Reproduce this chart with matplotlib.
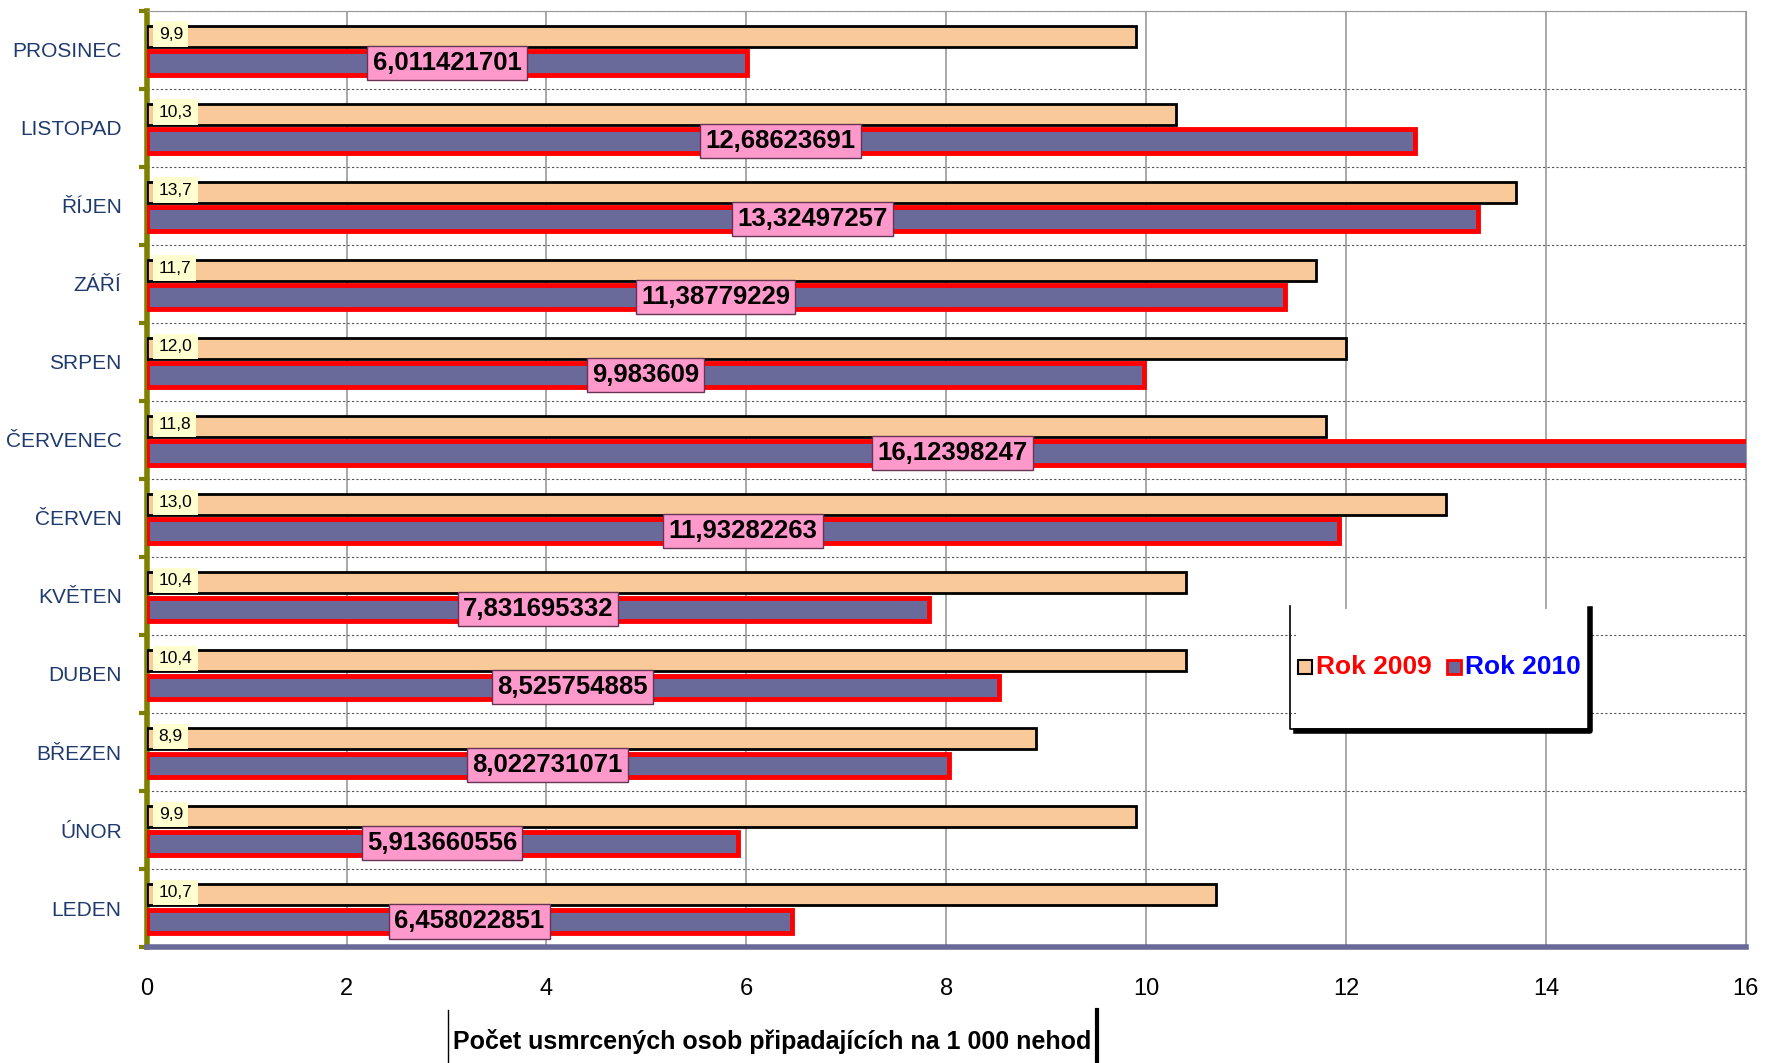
import matplotlib.pyplot as plt
from matplotlib.patches import Rectangle
from matplotlib.lines import Line2D
import numpy as np

plt.rcParams['font.family'] = ['Liberation Sans', 'DejaVu Sans']

months = ['LEDEN', 'ÚNOR', 'BŘEZEN', 'DUBEN', 'KVĚTEN', 'ČERVEN', 'ČERVENEC',
          'SRPEN', 'ZÁŘÍ', 'ŘÍJEN', 'LISTOPAD', 'PROSINEC']
rok_2009 = [10.7, 9.9, 8.9, 10.4, 10.4, 13.0, 11.8, 12.0, 11.7, 13.7, 10.3, 9.9]
rok_2010 = [6.458022851, 5.913660556, 8.022731071, 8.525754885, 7.831695332,
            11.93282263, 16.12398247, 9.983609, 11.38779229, 13.32497257,
            12.68623691, 6.011421701]

fig = plt.figure(figsize=(17.67, 10.63), dpi=100)
ax = fig.add_axes([0.083, 0.109, 0.905, 0.881])

y = np.arange(len(months))
ax.barh(y + 0.17, rok_2009, height=0.27, color='#f9c99a', edgecolor='black', linewidth=2, zorder=3)
ax.barh(y - 0.17, rok_2010, height=0.30, color='#6a6a9a', edgecolor='red', linewidth=3.5, zorder=3)

for i in range(len(months)):
    ax.text(0.12, y[i] + 0.2, f'{rok_2009[i]:.1f}'.replace('.', ','), fontsize=12.5,
            va='center', ha='left', zorder=5,
            bbox=dict(boxstyle='square,pad=0.3', fc='#ffffd0', ec='none'))
    ax.text(rok_2010[i] / 2, y[i] - 0.17, f'{rok_2010[i]:.10g}'.replace('.', ','),
            fontsize=18.5, fontweight='bold', va='center', ha='center', zorder=5,
            bbox=dict(boxstyle='square,pad=0.2', fc='#ff99cc', ec='#663355', lw=1))

ax.set_xlim(0, 16)
ax.set_ylim(-0.5, len(months) - 0.5)
ax.set_xticks(range(0, 17, 2))
ax.tick_params(axis='x', labelsize=17, length=0, pad=22)
ax.set_yticks(y)
ax.set_yticklabels(months, fontsize=15, color='#1f3a6e')
ax.tick_params(axis='y', length=0, pad=18)
ax.set_yticks(np.arange(-0.5, len(months), 1), minor=True)
ax.tick_params(axis='y', which='minor', length=6, width=3, color='#808000')
ax.grid(axis='x', color='#999999', lw=1.2, zorder=0)
ax.grid(axis='y', which='minor', color='#555555', lw=0.8, ls=(0, (2, 2)), zorder=0)
ax.grid(axis='y', which='major', visible=False)
for s in ['top', 'right']:
    ax.spines[s].set_color('#999999')
ax.spines['left'].set_color('#808000')
ax.spines['left'].set_linewidth(4)
ax.spines['bottom'].set_color('#6a6a9a')
ax.spines['bottom'].set_linewidth(4)

# legend box
fig.patches.append(Rectangle((0.7335, 0.314), 0.166, 0.113, transform=fig.transFigure,
                             fc='white', ec='none', zorder=10))
fig.lines.append(Line2D([0.73, 0.73, 0.90], [0.43, 0.314, 0.314], transform=fig.transFigure,
                        color='black', lw=1.2, zorder=11))
fig.lines.append(Line2D([0.7335, 0.90, 0.90], [0.312, 0.312, 0.427], transform=fig.transFigure,
                        color='black', lw=4, zorder=11))
fig.lines.append(Line2D([0.7385], [0.373], transform=fig.transFigure, marker='s', ms=10,
                        mfc='#f9c99a', mec='black', mew=1.5, ls='none', zorder=12))
fig.text(0.745, 0.373, 'Rok 2009', color='red', fontsize=19, fontweight='bold',
         va='center', zorder=12)
fig.lines.append(Line2D([0.823], [0.373], transform=fig.transFigure, marker='s', ms=10,
                        mfc='#6a6a9a', mec='red', mew=2, ls='none', zorder=12))
fig.text(0.829, 0.373, 'Rok 2010', color='blue', fontsize=19, fontweight='bold',
         va='center', zorder=12)

# x label
fig.text(0.437, 0.008, 'Počet usmrcených osob připadajících na 1 000 nehod', fontsize=18,
         fontweight='bold', ha='center', va='bottom')
fig.lines.append(Line2D([0.2535, 0.2535], [0.0, 0.05], transform=fig.transFigure, color='black', lw=1))
fig.lines.append(Line2D([0.621, 0.621], [0.0, 0.05], transform=fig.transFigure, color='black', lw=3))

fig.savefig('out.png', dpi=100)
